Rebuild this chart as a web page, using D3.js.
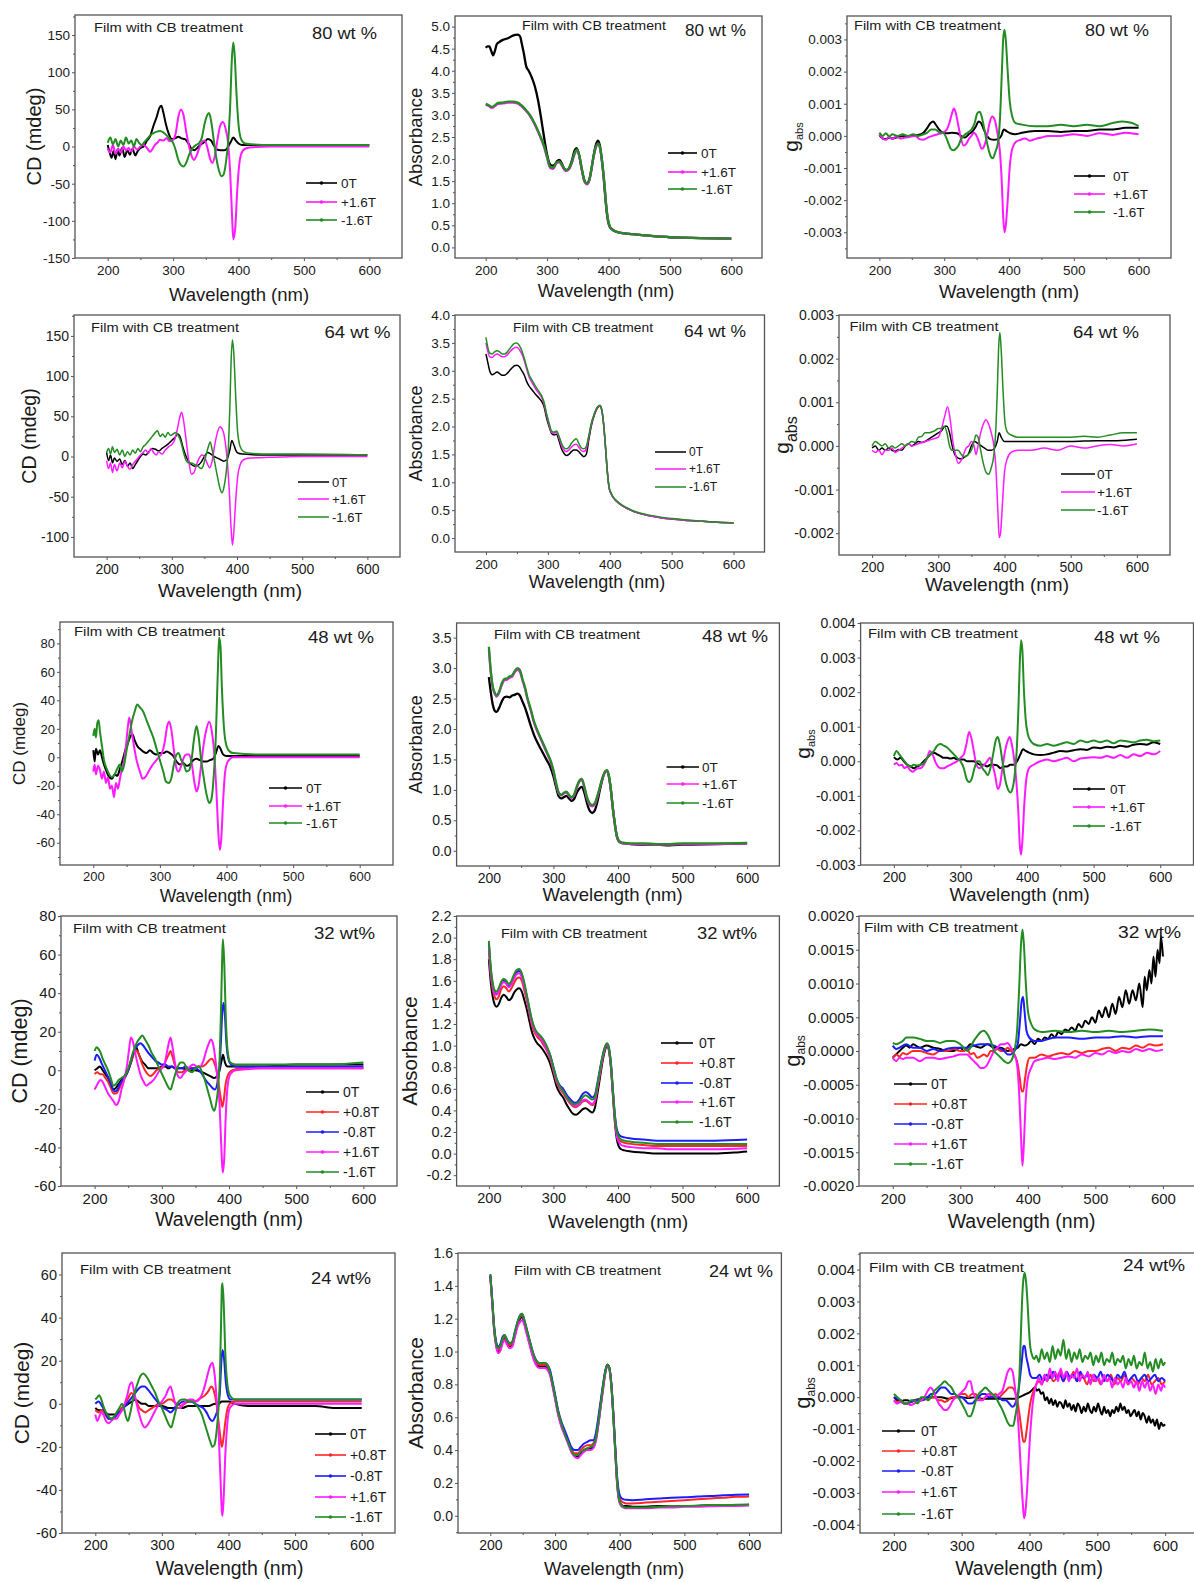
<!DOCTYPE html>
<html>
<head>
<meta charset="utf-8">
<script src="https://cdn.jsdelivr.net/npm/d3@7"></script>
<style>
  body { margin: 0; background: #fff; }
  svg { display: block; }
</style>
</head>
<body>
<svg id="fig" width="1194" height="1582"></svg>
<script>
// ---- tick values ----
var xTicks = [200, 300, 400, 500, 600];
var cdTicks80 = [-150, -100, -50, 0, 50, 100, 150];
var cdTicks64 = [-100, -50, 0, 50, 100, 150];
var cdTicks48 = [-60, -40, -20, 0, 20, 40, 60, 80];
var cdTicks32 = [-60, -40, -20, 0, 20, 40, 60, 80];
var cdTicks24 = [-60, -40, -20, 0, 20, 40, 60];
var absTicks80 = [0, 0.5, 1, 1.5, 2, 2.5, 3, 3.5, 4, 4.5, 5];
var absTicks64 = [0, 0.5, 1, 1.5, 2, 2.5, 3, 3.5, 4];
var absTicks48 = [0, 0.5, 1, 1.5, 2, 2.5, 3, 3.5];
var absTicks32 = [-0.2, 0, 0.2, 0.4, 0.6, 0.8, 1, 1.2, 1.4, 1.6, 1.8, 2, 2.2];
var absTicks24 = [0, 0.2, 0.4, 0.6, 0.8, 1, 1.2, 1.4, 1.6];
var gTicks80 = [-0.003, -0.002, -0.001, 0, 0.001, 0.002, 0.003];
var gTicks64 = [-0.002, -0.001, 0, 0.001, 0.002, 0.003];
var gTicks48 = [-0.003, -0.002, -0.001, 0, 0.001, 0.002, 0.003, 0.004];
var gTicks32 = [-0.002, -0.0015, -0.001, -0.0005, 0, 0.0005, 0.001, 0.0015, 0.002];
var gTicks24 = [-0.004, -0.003, -0.002, -0.001, 0, 0.001, 0.002, 0.003, 0.004];

// ---- 80 wt % ----
var cd80_0T = [[200,2],[203,-8],[206,-15],[209,-6],[212,-17],[215,-4],[218,-12],[222,-2],[226,-14],[230,-5],[234,-11],[238,-3],[242,-12],[246,-6],[250,-2],[255,0],[260,8],[265,14],[270,28],[275,40],[279,52],[282,55],[285,46],[289,30],[293,18],[298,10],[303,11],[308,13],[313,11],[318,10],[323,5],[328,-3],[333,-5],[338,-1],[343,3],[348,6],[353,10],[358,8],[362,2],[367,-4],[372,-5],[378,-5],[383,-2],[388,6],[392,12],[396,8],[400,4],[406,2],[420,2],[450,2],[500,2],[550,2],[600,2]];
var cd80_p16 = [[200,-3],[204,-8],[208,2],[212,-10],[216,-3],[220,-8],[224,0],[228,-5],[232,-2],[236,-7],[240,0],[245,-4],[250,0],[255,2],[260,-2],[265,-7],[268,-4],[272,2],[276,5],[280,9],[285,8],[290,11],[295,7],[300,9],[304,18],[308,40],[312,50],[316,42],[320,20],[324,2],[328,-12],[332,-18],[336,-12],[340,-2],[344,6],[348,8],[352,0],[356,-15],[360,-22],[364,-12],[368,10],[372,28],[376,33],[380,25],[384,5],[387,-30],[390,-90],[392,-125],[395,-110],[398,-60],[401,-25],[405,-8],[410,-3],[420,-1],[450,0],[500,0],[550,0],[600,0]];
var cd80_m16 = [[200,5],[204,12],[208,3],[212,10],[216,0],[220,8],[224,2],[228,12],[232,4],[236,8],[240,0],[244,10],[248,5],[252,2],[256,6],[260,10],[265,15],[270,18],[275,20],[280,21],[285,19],[290,15],[295,10],[300,5],[304,-5],[308,-18],[312,-25],[316,-27],[320,-22],[325,-10],[330,-2],[335,2],[340,5],[344,12],[348,30],[352,42],[355,45],[358,35],[362,10],[366,-15],[370,-32],[374,-40],[377,-38],[381,-20],[384,5],[387,50],[390,120],[392,140],[394,125],[397,70],[400,30],[404,10],[410,4],[420,3],[450,2],[500,2],[550,2],[600,2]];

var abs80_0T = [[200,4.52],[203,4.55],[206,4.55],[209,4.45],[212,4.35],[215,4.45],[218,4.6],[222,4.65],[228,4.7],[235,4.73],[242,4.78],[248,4.81],[252,4.82],[256,4.78],[259,4.6],[262,4.4],[266,4.1],[270,4.0],[275,3.85],[280,3.65],[285,3.35],[290,2.95],[295,2.5],[300,2.1],[304,1.9],[308,1.85],[312,1.87],[316,1.95],[320,1.98],[324,1.9],[328,1.78],[332,1.75],[336,1.8],[340,1.95],[345,2.2],[348,2.25],[352,2.1],[356,1.8],[360,1.55],[364,1.45],[368,1.5],[372,1.75],[376,2.1],[380,2.35],[383,2.42],[386,2.3],[389,2.0],[392,1.6],[395,1.1],[398,0.7],[401,0.5],[405,0.42],[410,0.37],[420,0.33],[440,0.3],[460,0.27],[480,0.25],[500,0.23],[520,0.22],[550,0.21],[600,0.2]];
var abs80_p16 = [[200,3.23],[205,3.2],[210,3.16],[215,3.2],[220,3.25],[228,3.26],[236,3.28],[244,3.28],[252,3.26],[258,3.2],[265,3.1],[272,2.98],[280,2.78],[288,2.53],[295,2.28],[300,2.03],[305,1.8],[310,1.78],[315,1.9],[320,1.93],[325,1.83],[330,1.73],[335,1.76],[340,1.9],[345,2.12],[349,2.2],[353,2.03],[357,1.73],[361,1.48],[365,1.43],[369,1.53],[373,1.83],[377,2.13],[381,2.31],[384,2.33],[387,2.18],[390,1.88],[393,1.48],[396,0.98],[399,0.64],[402,0.47],[406,0.4],[412,0.36],[420,0.33],[440,0.3],[460,0.27],[480,0.25],[500,0.23],[520,0.22],[550,0.21],[600,0.2]];
var abs80_m16 = [[200,3.25],[205,3.22],[210,3.18],[215,3.22],[220,3.27],[228,3.28],[236,3.3],[244,3.3],[252,3.28],[258,3.22],[265,3.12],[272,3.0],[280,2.8],[288,2.55],[295,2.3],[300,2.05],[305,1.82],[310,1.8],[315,1.92],[320,1.95],[325,1.85],[330,1.75],[335,1.78],[340,1.92],[345,2.15],[349,2.22],[353,2.05],[357,1.75],[361,1.5],[365,1.45],[369,1.55],[373,1.85],[377,2.15],[381,2.33],[384,2.35],[387,2.2],[390,1.9],[393,1.5],[396,1.0],[399,0.65],[402,0.48],[406,0.4],[412,0.36],[420,0.33],[440,0.3],[460,0.27],[480,0.25],[500,0.23],[520,0.22],[550,0.21],[600,0.2]];

var g80_0T = [[200,0.00002],[205,-0.00008],[210,-0.0001],[215,-0.00005],[220,-0.00008],[230,-0.00003],[240,0],[250,0],[260,0.00003],[268,0.0001],[274,0.00025],[279,0.0004],[283,0.00045],[287,0.00035],[292,0.0002],[298,0.0001],[305,0.00008],[312,0.0001],[320,0.00008],[326,0],[332,-0.00005],[338,0.00005],[344,0.00015],[349,0.0003],[353,0.00045],[357,0.0004],[361,0.0002],[366,0],[371,-0.0001],[377,-0.00012],[383,-0.0001],[388,0],[392,0.0002],[396,0.00015],[402,0.00008],[410,0.00005],[420,0.0001],[440,0.00015],[460,0.00015],[480,0.00012],[500,0.00015],[520,0.00015],[540,0.0002],[560,0.0002],[580,0.00025],[600,0.00025]];
var g80_p16 = [[200,0.00005],[205,-0.00008],[210,-0.00012],[215,-0.00003],[220,-0.0001],[226,-0.00002],[232,-0.00008],[240,-0.00005],[248,-0.00003],[255,0],[262,-0.0001],[268,-0.00012],[275,-0.00005],[282,0],[290,0.00005],[298,0.0001],[304,0.0002],[308,0.0004],[312,0.0007],[315,0.00085],[318,0.0007],[322,0.0003],[326,-0.0001],[330,-0.0003],[334,-0.00025],[338,-0.0001],[342,0],[346,0.0001],[350,0],[354,-0.0002],[358,-0.0004],[362,-0.0003],[366,0],[370,0.0004],[374,0.0006],[378,0.0005],[382,0.0001],[386,-0.0005],[389,-0.0015],[391,-0.0025],[393,-0.003],[395,-0.0028],[398,-0.002],[401,-0.001],[405,-0.0004],[410,-0.0002],[418,-0.00012],[425,-0.00008],[432,-0.00015],[440,-0.0001],[450,-0.00005],[460,0],[480,0],[500,0.00005],[520,0],[540,0.00008],[560,0.00003],[580,0.0001],[600,0.00005]];
var g80_m16 = [[200,0.0001],[205,0],[210,0.00008],[215,-0.00002],[220,0.00005],[228,0],[236,0.00005],[244,0],[252,0.00005],[260,0],[268,0.00005],[274,0.0001],[280,0.0002],[286,0.0002],[292,0.00012],[298,0.0001],[302,0],[306,-0.0002],[310,-0.0004],[314,-0.00045],[318,-0.0004],[322,-0.0003],[326,-0.0001],[330,0],[336,0.0001],[342,0.0002],[347,0.0004],[351,0.0007],[355,0.00075],[359,0.0005],[363,0.0001],[367,-0.0003],[371,-0.0006],[375,-0.0007],[379,-0.0005],[383,-0.0002],[386,0.0005],[389,0.002],[391,0.003],[393,0.0033],[395,0.003],[398,0.002],[401,0.0011],[405,0.0006],[410,0.0004],[420,0.00035],[440,0.0003],[460,0.0003],[480,0.00035],[500,0.0003],[520,0.00035],[540,0.0003],[560,0.0004],[575,0.00045],[590,0.0004],[600,0.0003]];

// ---- 64 wt % ----
var cd64_0T = [[200,5],[203,-5],[206,2],[209,-8],[212,-2],[216,-6],[220,-3],[224,-10],[228,-5],[232,-12],[236,-8],[240,-15],[244,-10],[248,-5],[252,0],[256,3],[260,2],[265,6],[270,10],[275,9],[280,7],[285,10],[290,13],[295,16],[300,20],[305,24],[309,28],[313,24],[317,12],[321,2],[325,-5],[330,-10],[335,-12],[340,-11],[345,-7],[350,0],[355,5],[360,3],[365,0],[370,-2],[375,-4],[380,-6],[385,-3],[389,8],[392,20],[395,15],[398,8],[402,4],[410,3],[430,2],[500,2],[600,2]];
var cd64_p16 = [[200,-5],[203,-15],[206,-8],[209,-20],[212,-10],[216,-18],[220,-8],[224,-14],[228,-6],[232,-12],[236,-16],[240,-10],[244,-6],[248,-2],[252,2],[256,5],[260,8],[264,4],[268,10],[272,5],[276,2],[280,6],[285,3],[290,8],[295,12],[300,15],[304,20],[308,32],[312,48],[315,55],[318,45],[322,20],[326,-5],[330,-22],[334,-20],[338,-10],[342,-2],[346,2],[350,0],[354,-8],[358,-14],[362,-5],[366,15],[370,30],[374,37],[378,33],[382,18],[385,-5],[388,-40],[391,-90],[393,-110],[395,-95],[398,-55],[401,-25],[405,-10],[410,-4],[420,-2],[450,-1],[500,0],[600,0]];
var cd64_m16 = [[200,5],[203,10],[206,3],[209,12],[212,5],[216,9],[220,2],[224,8],[228,0],[232,6],[236,2],[240,8],[244,4],[248,10],[252,6],[256,12],[260,15],[265,20],[270,25],[275,30],[278,32],[282,25],[286,28],[290,24],[294,30],[298,26],[302,28],[306,30],[310,26],[314,18],[318,5],[322,-5],[326,-8],[330,-8],[335,-10],[340,-12],[345,-15],[348,-12],[352,0],[356,12],[359,18],[362,8],[366,-8],[370,-25],[374,-40],[377,-45],[380,-38],[384,-15],[387,15],[389,60],[391,120],[393,145],[395,130],[398,75],[401,30],[405,12],[410,6],[420,4],[450,3],[500,3],[600,2]];

var abs64_0T = [[200,3.3],[203,3.15],[206,3.0],[210,2.93],[214,2.95],[218,2.98],[222,2.95],[226,2.92],[230,2.92],[234,2.95],[238,3.0],[242,3.05],[246,3.09],[250,3.1],[254,3.07],[258,3.0],[262,2.92],[266,2.8],[270,2.72],[275,2.65],[280,2.58],[285,2.52],[290,2.45],[294,2.35],[298,2.15],[302,2.0],[306,1.88],[310,1.85],[314,1.86],[318,1.75],[322,1.6],[326,1.52],[330,1.48],[334,1.5],[338,1.55],[342,1.58],[346,1.58],[350,1.55],[354,1.5],[358,1.46],[362,1.5],[366,1.75],[370,2.0],[375,2.2],[380,2.33],[384,2.37],[387,2.3],[390,2.05],[393,1.65],[396,1.2],[399,0.9],[402,0.8],[406,0.72],[410,0.67],[420,0.58],[430,0.52],[440,0.47],[460,0.41],[480,0.37],[500,0.34],[520,0.32],[550,0.3],[580,0.28],[600,0.27]];
var abs64_p16 = [[200,3.5],[203,3.35],[206,3.25],[210,3.24],[214,3.28],[218,3.3],[222,3.28],[226,3.25],[230,3.25],[234,3.28],[238,3.33],[242,3.38],[246,3.41],[250,3.42],[254,3.38],[258,3.3],[262,3.18],[266,3.02],[270,2.88],[275,2.78],[280,2.68],[285,2.6],[290,2.52],[294,2.4],[298,2.2],[302,2.03],[306,1.9],[310,1.88],[314,1.9],[318,1.8],[322,1.66],[326,1.58],[330,1.55],[334,1.58],[338,1.63],[342,1.67],[346,1.68],[350,1.63],[354,1.57],[358,1.55],[362,1.6],[366,1.8],[370,2.03],[375,2.22],[380,2.34],[384,2.37],[387,2.3],[390,2.05],[393,1.65],[396,1.2],[399,0.9],[402,0.8],[406,0.72],[410,0.67],[420,0.58],[430,0.52],[440,0.47],[460,0.41],[480,0.37],[500,0.34],[520,0.32],[550,0.3],[580,0.28],[600,0.27]];
var abs64_m16 = [[200,3.6],[203,3.42],[206,3.32],[210,3.3],[214,3.34],[218,3.36],[222,3.34],[226,3.3],[230,3.3],[234,3.33],[238,3.39],[242,3.45],[246,3.49],[250,3.5],[254,3.45],[258,3.36],[262,3.22],[266,3.06],[270,2.92],[275,2.82],[280,2.72],[285,2.64],[290,2.55],[294,2.43],[298,2.23],[302,2.06],[306,1.92],[310,1.9],[314,1.92],[318,1.83],[322,1.7],[326,1.62],[330,1.6],[334,1.63],[338,1.7],[342,1.75],[346,1.78],[350,1.7],[354,1.62],[358,1.6],[362,1.64],[366,1.83],[370,2.05],[375,2.23],[380,2.35],[384,2.38],[387,2.31],[390,2.06],[393,1.66],[396,1.21],[399,0.91],[402,0.81],[406,0.73],[410,0.68],[420,0.59],[430,0.53],[440,0.48],[460,0.42],[480,0.38],[500,0.35],[520,0.33],[550,0.3],[580,0.28],[600,0.27]];

var g64_0T = [[200,-0.00005],[205,0],[210,-0.0001],[215,-0.00005],[220,-0.0001],[225,-0.00005],[230,-0.0001],[235,-0.00012],[240,-0.00008],[245,-0.0001],[250,0],[255,0.00005],[260,0],[265,0.00005],[270,0.0001],[275,0.00008],[280,0.0001],[285,0.00015],[290,0.0002],[295,0.00025],[300,0.0003],[305,0.00035],[310,0.00045],[313,0.00045],[317,0.0003],[321,0],[325,-0.0002],[330,-0.00028],[335,-0.0003],[340,-0.00025],[345,-0.0002],[350,0],[355,0.0001],[360,0.00005],[365,0],[370,-0.00005],[375,-0.0001],[380,-0.0001],[385,-0.00005],[389,0.0001],[392,0.0003],[395,0.0002],[400,0.0001],[410,0.0001],[430,0.0001],[460,0.0001],[500,0.0001],[540,0.00012],[570,0.00012],[600,0.00015]];
var g64_p16 = [[200,-0.0001],[205,-0.00015],[210,-0.0001],[215,-0.0002],[220,-0.0001],[225,-0.0001],[230,-0.00005],[235,-0.00015],[240,-0.0001],[245,-0.00005],[250,0],[255,0.00005],[260,0],[270,0.00005],[280,0.0001],[290,0.00015],[300,0.0002],[305,0.0004],[310,0.0007],[314,0.0009],[318,0.0006],[322,0.0001],[326,-0.0002],[330,-0.0004],[334,-0.00035],[338,-0.0002],[342,-0.00005],[346,0],[350,0.0001],[354,0],[357,-0.0002],[360,0],[364,0.0003],[368,0.0005],[372,0.0006],[376,0.0005],[380,0.0003],[384,0],[387,-0.0005],[390,-0.0015],[392,-0.0021],[394,-0.002],[397,-0.0013],[400,-0.0006],[404,-0.0003],[410,-0.00015],[420,-0.0001],[440,-0.0001],[460,-0.00005],[480,-0.0001],[500,0],[520,-0.00005],[540,0],[560,0.00003],[580,0],[600,0.00005]];
var g64_m16 = [[200,0],[205,0.0001],[210,0.00005],[215,0],[220,0.00005],[225,-0.00005],[230,0],[235,-0.00005],[240,0],[245,0.00005],[250,0],[255,0.00005],[260,0.0001],[265,0.00008],[270,0.0002],[275,0.00022],[280,0.0003],[285,0.0003],[290,0.00032],[295,0.00035],[300,0.0004],[305,0.0004],[309,0.00045],[313,0.0003],[317,0],[321,-0.0001],[325,-0.0001],[330,-0.0001],[335,-0.0002],[340,-0.00025],[345,-0.0002],[350,-0.0001],[354,0.0001],[357,0.00025],[360,0.0002],[364,-0.0001],[368,-0.0004],[372,-0.0006],[376,-0.00065],[380,-0.0005],[384,-0.0002],[387,0.0004],[389,0.0012],[391,0.0022],[393,0.0026],[395,0.0022],[398,0.0012],[401,0.0005],[405,0.0003],[410,0.00025],[420,0.0002],[440,0.0002],[460,0.0002],[480,0.0002],[500,0.0002],[520,0.00022],[540,0.0002],[560,0.00025],[580,0.0003],[600,0.0003]];

// ---- 48 wt % ----
var cd48_0T = [[200,5],[202,-3],[204,6],[207,2],[210,5],[213,0],[216,-5],[220,-10],[224,-14],[228,-15],[232,-12],[236,-13],[240,-8],[244,-2],[248,5],[252,10],[256,15],[259,16],[262,12],[266,8],[270,6],[275,4],[280,3],[285,5],[290,3],[295,2],[300,3],[305,3],[310,4],[315,3],[320,1],[325,-3],[330,-5],[335,-4],[340,-6],[345,-5],[350,-2],[355,-1],[360,-2],[365,-3],[370,-3],[375,-2],[380,-1],[384,3],[388,8],[391,6],[395,2],[400,1],[410,1],[450,1],[500,1],[600,1]];
var cd48_p16 = [[200,-10],[202,-5],[204,-12],[207,-6],[210,-9],[213,-15],[216,-10],[219,-18],[222,-14],[225,-22],[228,-20],[231,-28],[234,-18],[237,-22],[240,-15],[243,-8],[246,-3],[249,8],[252,22],[254,28],[257,20],[261,8],[265,-2],[270,-10],[274,-15],[278,-14],[283,-10],[288,-6],[293,-3],[298,0],[303,3],[307,10],[311,22],[314,25],[317,20],[321,5],[325,-8],[328,-10],[332,-6],[336,0],[340,2],[344,2],[348,-5],[352,-18],[355,-24],[358,-20],[362,-5],[366,10],[370,20],[374,25],[378,18],[382,0],[385,-25],[388,-55],[390,-65],[392,-58],[395,-30],[398,-10],[402,-3],[410,0],[450,0],[500,0],[600,0]];
var cd48_m16 = [[200,15],[202,20],[204,14],[206,24],[208,26],[210,18],[213,8],[216,-2],[220,-8],[224,-12],[228,-14],[232,-12],[236,-8],[240,-5],[243,-10],[246,-6],[250,5],[254,15],[258,25],[262,32],[266,37],[270,35],[275,32],[280,26],[285,20],[290,14],[295,6],[300,-2],[305,-10],[309,-17],[313,-18],[317,-15],[321,-5],[325,2],[328,3],[332,-2],[336,-5],[340,-10],[344,-9],[348,0],[351,12],[355,22],[358,15],[362,-2],[366,-15],[370,-26],[374,-32],[377,-30],[381,-12],[384,15],[386,45],[388,75],[389,84],[391,78],[393,50],[396,22],[400,8],[405,4],[410,3],[450,2],[500,2],[550,2],[600,2]];

var abs48_0T = [[200,2.85],[203,2.6],[206,2.4],[209,2.3],[212,2.28],[216,2.35],[220,2.45],[224,2.52],[228,2.53],[232,2.52],[236,2.55],[240,2.56],[244,2.58],[248,2.55],[252,2.45],[256,2.35],[260,2.22],[265,2.05],[270,1.9],[275,1.78],[280,1.68],[285,1.58],[290,1.48],[295,1.38],[300,1.22],[304,1.05],[308,0.9],[312,0.86],[316,0.88],[320,0.9],[324,0.86],[328,0.82],[332,0.85],[336,0.95],[340,1.02],[344,1.05],[348,0.95],[352,0.78],[356,0.66],[360,0.62],[364,0.66],[368,0.8],[372,1.0],[376,1.18],[380,1.3],[383,1.32],[386,1.22],[389,1.0],[392,0.7],[395,0.45],[398,0.25],[401,0.16],[405,0.13],[410,0.12],[420,0.11],[440,0.1],[460,0.1],[480,0.09],[500,0.1],[550,0.11],[600,0.12]];
var abs48_p16 = [[200,3.3],[203,2.92],[206,2.68],[209,2.58],[212,2.53],[216,2.6],[220,2.72],[224,2.8],[228,2.81],[232,2.84],[236,2.86],[240,2.93],[244,2.97],[248,2.94],[252,2.8],[256,2.66],[260,2.48],[265,2.3],[270,2.1],[275,1.96],[280,1.84],[285,1.72],[290,1.6],[295,1.48],[300,1.3],[304,1.1],[308,0.95],[312,0.91],[316,0.94],[320,0.96],[324,0.91],[328,0.87],[332,0.91],[336,1.03],[340,1.13],[344,1.16],[348,1.03],[352,0.86],[356,0.76],[360,0.73],[364,0.76],[368,0.88],[372,1.04],[376,1.19],[380,1.29],[383,1.31],[386,1.21],[389,0.99],[392,0.69],[395,0.44],[398,0.24],[401,0.16],[405,0.13],[410,0.12],[420,0.11],[440,0.11],[460,0.1],[480,0.1],[500,0.11],[550,0.11],[600,0.12]];
var abs48_m16 = [[200,3.35],[203,2.95],[206,2.7],[209,2.6],[212,2.55],[216,2.62],[220,2.75],[224,2.82],[228,2.83],[232,2.86],[236,2.88],[240,2.95],[244,3.0],[248,2.97],[252,2.82],[256,2.68],[260,2.5],[265,2.32],[270,2.12],[275,1.98],[280,1.86],[285,1.74],[290,1.62],[295,1.5],[300,1.32],[304,1.12],[308,0.96],[312,0.92],[316,0.95],[320,0.97],[324,0.92],[328,0.88],[332,0.92],[336,1.05],[340,1.15],[344,1.18],[348,1.05],[352,0.88],[356,0.78],[360,0.75],[364,0.78],[368,0.9],[372,1.05],[376,1.2],[380,1.3],[383,1.32],[386,1.22],[389,1.0],[392,0.7],[395,0.45],[398,0.25],[401,0.17],[405,0.14],[410,0.13],[420,0.12],[440,0.12],[460,0.11],[480,0.11],[500,0.12],[550,0.12],[600,0.13]];

var g48_0T = [[200,0.00012],[205,0.00005],[210,0.0001],[215,0],[220,-0.0001],[225,-0.00015],[230,-0.0002],[235,-0.00015],[240,-0.0001],[245,0],[250,0.0001],[255,0.0002],[260,0.00025],[265,0.0002],[270,0.00015],[275,0.0001],[280,0.0001],[285,0.00008],[290,0.0001],[295,0.00005],[300,0.00005],[305,0.00005],[310,0],[315,0],[320,0],[325,-0.00005],[330,-0.0001],[335,-0.0001],[340,-0.00015],[345,-0.0001],[350,-0.0001],[355,-0.00012],[360,-0.0002],[365,-0.00015],[370,-0.00015],[375,-0.0001],[380,-0.0001],[385,0],[390,0.0002],[394,0.00035],[398,0.0003],[403,0.00025],[410,0.0002],[420,0.00018],[430,0.0002],[440,0.00025],[450,0.0003],[460,0.00028],[470,0.00032],[480,0.00035],[490,0.00033],[500,0.0004],[510,0.00038],[520,0.00042],[530,0.0004],[540,0.00045],[550,0.00042],[560,0.00048],[570,0.0005],[580,0.00048],[590,0.00055],[600,0.0005]];
var g48_p16 = [[200,-0.0001],[204,-0.00005],[208,-0.00012],[212,-0.0001],[216,-0.0002],[220,-0.00015],[224,-0.00025],[228,-0.0003],[232,-0.00025],[236,-0.0002],[240,-0.0002],[245,-0.0001],[250,0.0001],[254,0.0003],[258,0.0002],[262,0],[266,-0.00015],[270,-0.0002],[275,-0.0002],[280,-0.00015],[285,-0.0001],[290,-0.00005],[295,0],[300,0.0001],[305,0.0002],[309,0.0005],[313,0.00085],[316,0.0007],[320,0.0003],[324,-0.0001],[328,-0.0002],[332,-0.00015],[336,-0.0001],[340,0],[344,0.0001],[348,-0.0001],[352,-0.0004],[356,-0.0008],[359,-0.0007],[363,-0.0002],[367,0.0003],[371,0.0006],[374,0.0007],[377,0.0005],[381,0],[384,-0.0006],[387,-0.0015],[389,-0.0024],[391,-0.0027],[393,-0.0023],[396,-0.0012],[399,-0.0005],[403,-0.0002],[410,-0.0001],[420,0],[430,0.00005],[440,0],[450,0.00005],[460,0.0001],[470,0],[480,0.00008],[490,0.0001],[500,0.00012],[510,0.0001],[520,0.00015],[530,0.0001],[540,0.00018],[550,0.0001],[560,0.0002],[570,0.00015],[580,0.00025],[590,0.0002],[600,0.0003]];
var g48_m16 = [[200,0.00015],[204,0.0003],[208,0.0002],[212,0.0001],[216,0],[220,-0.0001],[225,-0.00015],[230,-0.0001],[235,-0.00012],[240,-0.0001],[245,-0.00005],[250,0.0001],[255,0.0002],[260,0.0003],[265,0.00045],[270,0.0005],[275,0.00045],[280,0.0004],[285,0.0003],[290,0.0002],[295,0.0001],[300,0],[305,-0.0002],[309,-0.0005],[313,-0.0006],[317,-0.0005],[321,-0.0002],[325,0],[329,0],[333,-0.0002],[337,-0.0003],[341,-0.0004],[345,-0.0002],[349,0.0002],[353,0.0006],[356,0.0007],[359,0.0005],[363,0],[367,-0.0005],[371,-0.0008],[375,-0.0009],[378,-0.0008],[382,-0.0003],[385,0.0005],[387,0.0015],[389,0.0028],[391,0.0035],[393,0.0032],[395,0.0022],[398,0.0012],[401,0.0008],[405,0.0006],[410,0.0005],[420,0.00045],[430,0.0005],[440,0.00045],[450,0.0005],[460,0.00055],[470,0.0005],[480,0.0006],[490,0.00055],[500,0.0006],[510,0.00055],[520,0.0006],[530,0.00052],[540,0.0006],[550,0.00058],[560,0.00055],[570,0.0006],[580,0.00062],[590,0.00058],[600,0.0006]];

// ---- 32 wt% ----
var cd32_0T = [[200,0],[204,1],[208,2],[212,0],[216,-2],[220,-4],[224,-7],[228,-10],[232,-9],[236,-7],[240,-5],[245,-3],[250,0],[255,5],[259,10],[262,12],[265,9],[270,5],[275,3],[280,1],[285,1],[290,1],[295,1],[300,2],[305,2],[310,1],[315,2],[320,1],[330,1],[340,0],[350,0],[360,-1],[366,-2],[372,-3],[378,-4],[382,-3],[386,0],[389,5],[391,8],[394,4],[398,2],[405,2],[420,2],[450,2],[500,3],[550,3],[600,3]];
var cd32_p08 = [[200,-2],[204,-1],[208,-2],[212,-2],[216,-4],[220,-6],[224,-9],[228,-12],[232,-12],[236,-10],[240,-7],[245,-4],[250,0],[255,5],[259,9],[263,10],[267,7],[271,3],[275,0],[279,-2],[283,-3],[287,-2],[292,0],[297,1],[302,2],[306,5],[310,8],[313,10],[316,7],[320,2],[325,-1],[330,-1],[335,0],[340,0],[345,1],[350,1],[355,2],[360,2],[365,3],[370,5],[374,6],[378,4],[382,-1],[385,-8],[388,-15],[390,-19],[392,-16],[395,-7],[399,-2],[405,0],[420,1],[500,1],[600,1]];
var cd32_m08 = [[200,5],[203,8],[206,7],[210,4],[214,1],[218,-2],[222,-5],[226,-9],[230,-11],[234,-10],[238,-7],[242,-5],[246,-3],[250,0],[255,6],[260,11],[264,13],[268,14],[272,13],[276,11],[280,9],[285,7],[290,5],[295,4],[300,3],[305,3],[310,2],[315,2],[320,1],[325,1],[330,1],[335,2],[340,1],[345,1],[350,1],[355,0],[360,-2],[365,-5],[370,-7],[375,-9],[379,-10],[383,-6],[386,2],[388,15],[390,30],[392,35],[394,28],[396,15],[399,6],[403,3],[410,2],[450,2],[500,2],[550,2],[600,2]];
var cd32_p16 = [[200,-10],[203,-8],[206,-6],[209,-5],[212,-6],[216,-9],[220,-12],[224,-14],[228,-16],[232,-18],[236,-16],[240,-10],[244,-5],[248,2],[251,10],[254,17],[257,15],[261,8],[265,2],[269,-3],[273,-6],[277,-8],[281,-7],[285,-6],[290,-4],[295,-1],[300,1],[304,3],[308,10],[311,15],[313,17],[316,12],[320,3],[324,-3],[328,-4],[332,-2],[337,0],[342,2],[347,3],[352,2],[357,2],[362,5],[366,10],[370,14],[373,16],[376,14],[380,5],[383,-5],[386,-18],[388,-35],[390,-50],[391,-53],[393,-45],[395,-25],[398,-8],[402,-2],[410,0],[450,1],[500,1],[550,1],[600,1]];
var cd32_m16 = [[200,10],[203,12],[206,11],[209,9],[212,6],[216,3],[220,0],[224,-4],[228,-8],[232,-7],[236,-5],[240,-4],[244,-3],[248,-1],[252,3],[256,8],[260,12],[264,15],[268,17],[271,18],[275,16],[280,13],[285,9],[290,6],[295,2],[299,-1],[303,-4],[307,-7],[310,-9],[313,-10],[316,-7],[320,-2],[324,2],[328,4],[332,4],[336,2],[340,0],[345,-1],[350,1],[355,2],[360,-1],[364,-5],[368,-10],[372,-15],[376,-20],[378,-21],[381,-17],[384,-8],[386,5],[388,30],[390,60],[391,68],[393,55],[395,30],[398,10],[402,4],[410,3],[450,3],[500,3],[550,3],[600,4]];

var abs32_0T = [[200,1.8],[203,1.58],[206,1.45],[209,1.38],[212,1.36],[215,1.38],[219,1.44],[223,1.47],[227,1.45],[231,1.42],[235,1.44],[239,1.49],[243,1.52],[247,1.53],[251,1.5],[255,1.42],[259,1.33],[263,1.22],[267,1.12],[271,1.06],[275,1.02],[280,0.99],[285,0.95],[290,0.9],[295,0.83],[300,0.73],[305,0.62],[310,0.56],[315,0.52],[320,0.46],[325,0.41],[330,0.37],[335,0.36],[340,0.38],[345,0.41],[350,0.42],[355,0.4],[360,0.38],[364,0.42],[368,0.55],[372,0.7],[376,0.85],[380,0.96],[383,1.0],[386,0.95],[389,0.8],[392,0.55],[395,0.3],[398,0.14],[401,0.07],[405,0.04],[410,0.03],[420,0.02],[440,0.01],[460,0],[480,0],[500,0],[520,0],[550,0],[580,0.01],[600,0.02]];
var abs32_p08 = [[200,1.88],[203,1.65],[206,1.52],[209,1.45],[212,1.43],[215,1.45],[219,1.52],[223,1.55],[227,1.53],[231,1.5],[235,1.53],[239,1.58],[243,1.62],[247,1.63],[251,1.6],[255,1.51],[259,1.41],[263,1.29],[267,1.18],[271,1.12],[275,1.08],[280,1.05],[285,1.0],[290,0.95],[295,0.88],[300,0.77],[305,0.66],[310,0.6],[315,0.56],[320,0.51],[325,0.47],[330,0.44],[335,0.43],[340,0.45],[345,0.48],[350,0.49],[355,0.47],[360,0.45],[364,0.48],[368,0.6],[372,0.74],[376,0.88],[380,0.98],[383,1.01],[386,0.96],[389,0.82],[392,0.58],[395,0.34],[398,0.19],[401,0.13],[405,0.11],[410,0.1],[420,0.09],[440,0.08],[460,0.07],[480,0.07],[500,0.07],[550,0.07],[600,0.07]];
var abs32_m08 = [[200,1.95],[203,1.7],[206,1.56],[209,1.49],[212,1.48],[215,1.5],[219,1.57],[223,1.6],[227,1.58],[231,1.55],[235,1.58],[239,1.64],[243,1.68],[247,1.69],[251,1.65],[255,1.56],[259,1.45],[263,1.33],[267,1.22],[271,1.15],[275,1.11],[280,1.08],[285,1.04],[290,0.98],[295,0.91],[300,0.8],[305,0.69],[310,0.63],[315,0.6],[320,0.55],[325,0.51],[330,0.48],[335,0.47],[340,0.5],[345,0.55],[350,0.57],[355,0.55],[360,0.52],[364,0.54],[368,0.65],[372,0.78],[376,0.9],[380,0.99],[383,1.02],[386,0.98],[389,0.84],[392,0.6],[395,0.37],[398,0.23],[401,0.18],[405,0.16],[410,0.15],[420,0.14],[440,0.13],[460,0.12],[480,0.12],[500,0.12],[550,0.12],[600,0.13]];
var abs32_p16 = [[200,1.92],[203,1.68],[206,1.55],[209,1.48],[212,1.47],[215,1.5],[219,1.56],[223,1.59],[227,1.57],[231,1.54],[235,1.57],[239,1.62],[243,1.66],[247,1.67],[251,1.63],[255,1.54],[259,1.43],[263,1.31],[267,1.2],[271,1.14],[275,1.1],[280,1.07],[285,1.02],[290,0.96],[295,0.89],[300,0.78],[305,0.67],[310,0.61],[315,0.57],[320,0.52],[325,0.48],[330,0.45],[335,0.44],[340,0.46],[345,0.49],[350,0.5],[355,0.48],[360,0.46],[364,0.49],[368,0.61],[372,0.75],[376,0.88],[380,0.98],[383,1.01],[386,0.96],[389,0.82],[392,0.57],[395,0.33],[398,0.17],[401,0.11],[405,0.08],[410,0.07],[420,0.06],[440,0.05],[460,0.05],[480,0.04],[500,0.04],[550,0.04],[600,0.05]];
var abs32_m16 = [[200,1.97],[203,1.72],[206,1.58],[209,1.51],[212,1.5],[215,1.53],[219,1.59],[223,1.62],[227,1.6],[231,1.57],[235,1.6],[239,1.66],[243,1.7],[247,1.71],[251,1.67],[255,1.58],[259,1.46],[263,1.34],[267,1.23],[271,1.16],[275,1.12],[280,1.09],[285,1.05],[290,0.99],[295,0.91],[300,0.8],[305,0.69],[310,0.62],[315,0.58],[320,0.53],[325,0.49],[330,0.46],[335,0.46],[340,0.48],[345,0.52],[350,0.54],[355,0.52],[360,0.5],[364,0.52],[368,0.63],[372,0.77],[376,0.9],[380,0.99],[383,1.02],[386,0.97],[389,0.83],[392,0.59],[395,0.36],[398,0.21],[401,0.16],[405,0.13],[410,0.12],[420,0.11],[440,0.1],[460,0.09],[480,0.09],[500,0.09],[550,0.09],[600,0.09]];

var g32_0T = [[200,-0.0001],[205,-0.00005],[210,0],[215,0.00005],[220,0.00008],[225,0.00005],[230,0.0001],[240,0.00005],[250,0.00008],[260,0.00005],[270,0.00003],[280,0],[290,0],[300,0.00005],[305,0],[310,0.00005],[315,0.0001],[320,0.00008],[330,0.00005],[340,0.0001],[350,0.00005],[360,0.00005],[370,0],[380,0.00003],[385,0.00005],[390,0.0001],[395,0.00008],[400,0.0001],[405,0.00015],[410,0.0001],[415,0.00018],[420,0.00015],[425,0.0002],[430,0.00018],[435,0.00025],[440,0.0002],[445,0.00028],[450,0.00025],[455,0.00032],[460,0.0003],[465,0.00035],[470,0.0003],[475,0.0004],[480,0.00035],[485,0.00045],[490,0.0004],[495,0.0005],[500,0.00042],[505,0.0006],[510,0.0005],[515,0.00065],[520,0.0005],[525,0.0007],[530,0.00055],[535,0.0008],[540,0.00065],[545,0.0009],[550,0.0007],[555,0.0009],[560,0.00075],[565,0.001],[570,0.00065],[573,0.0011],[576,0.0009],[580,0.0012],[583,0.001],[586,0.0014],[589,0.0011],[592,0.0015],[595,0.0013],[597,0.0017],[600,0.0014]];
var g32_p08 = [[200,-0.0001],[205,-0.00005],[210,-0.00008],[215,-0.00003],[220,-0.00005],[230,0],[240,0],[250,-0.00003],[260,-0.00005],[270,0],[280,0],[290,0.00003],[300,0],[305,0],[310,0.00003],[315,-0.00005],[320,-0.00003],[325,-0.0001],[330,-0.00008],[335,-0.00005],[340,-0.00008],[345,0],[350,0],[355,0.00003],[360,0],[365,0],[370,0.00005],[375,0],[380,-0.00005],[385,-0.0002],[388,-0.0004],[391,-0.0006],[393,-0.0006],[396,-0.0004],[399,-0.0002],[403,-0.0001],[410,-0.0001],[420,-0.00005],[430,-0.00008],[440,-0.00005],[450,-0.00003],[460,-0.00005],[470,0],[480,-0.00003],[490,0],[500,0],[510,0.00003],[520,0.00005],[530,0],[540,0.00005],[550,0.00003],[560,0.00008],[570,0.00005],[580,0.0001],[590,0.00008],[600,0.0001]];
var g32_m08 = [[200,0.00008],[205,0.00003],[210,0.00005],[220,0.0001],[230,0.00005],[240,0.00005],[250,0],[260,0.00003],[270,0],[280,0.00003],[290,0.00005],[300,0.00005],[310,0.00005],[320,0.00008],[330,0.0001],[340,0.0001],[350,0.00008],[360,0.00003],[365,0],[370,-0.00005],[375,-0.00005],[380,0],[385,0.0001],[388,0.0004],[391,0.00075],[393,0.0008],[395,0.0006],[398,0.0003],[402,0.0002],[410,0.00015],[420,0.00015],[440,0.0002],[460,0.0002],[480,0.00018],[500,0.0002],[520,0.0002],[540,0.00022],[560,0.0002],[580,0.00022],[600,0.00022]];
var g32_p16 = [[200,-0.0001],[205,-0.00015],[210,-0.0001],[215,-0.00012],[220,-0.0001],[230,-0.0001],[240,-0.00015],[250,-0.0001],[260,-0.0001],[270,-0.00012],[280,-0.0001],[290,-0.00008],[300,-0.00005],[305,-0.00005],[310,-0.00005],[315,-0.0001],[320,-0.00015],[325,-0.0002],[330,-0.00025],[335,-0.00025],[340,-0.0002],[345,-0.0001],[350,0],[355,0.00005],[360,0.0001],[365,0.0001],[370,0.00012],[375,0.00005],[380,-0.00005],[384,-0.0002],[387,-0.0006],[390,-0.0013],[392,-0.0017],[394,-0.0014],[397,-0.0007],[400,-0.0004],[405,-0.00025],[410,-0.00015],[420,-0.00012],[430,-0.0001],[440,-0.00012],[450,-0.0001],[460,-0.00008],[470,-0.0001],[480,-0.00005],[490,-0.00008],[500,-0.00003],[510,-0.00005],[520,0],[530,-0.00003],[540,0],[550,-0.00002],[560,0.00003],[570,0],[580,0.00003],[590,0],[600,0.00002]];
var g32_m16 = [[200,0.00012],[205,0.0001],[210,0.00012],[215,0.00015],[220,0.0002],[230,0.0002],[240,0.00018],[250,0.00015],[260,0.00015],[270,0.00012],[280,0.00015],[290,0.00015],[300,0.0001],[305,0.00005],[310,0],[315,0.00005],[320,0.00015],[325,0.00022],[330,0.00028],[335,0.0003],[340,0.00025],[345,0.00015],[350,0],[355,-0.00005],[360,-0.0001],[365,-0.00015],[370,-0.00018],[375,-0.00015],[380,0],[384,0.0003],[387,0.0009],[390,0.0016],[392,0.0018],[394,0.0016],[397,0.001],[400,0.0006],[405,0.0004],[410,0.00032],[420,0.00028],[440,0.0003],[460,0.00028],[480,0.0003],[500,0.00028],[520,0.0003],[540,0.00028],[560,0.0003],[580,0.00032],[600,0.0003]];

// ---- 24 wt% ----
var cd24_0T = [[200,-2],[205,-3],[210,-3],[215,-4],[220,-5],[225,-5],[230,-5],[235,-4],[240,-2],[245,-1],[250,0],[255,1],[260,2],[265,1],[270,0],[275,0],[280,-1],[290,-1],[300,-1],[310,-2],[320,-2],[330,-2],[340,-1],[350,-1],[360,-1],[370,-1],[380,0],[385,0],[390,1],[395,1],[400,1],[410,0],[430,-1],[450,-1],[470,-1],[500,-1],[530,-1],[560,-2],[580,-2],[600,-2]];
var cd24_p08 = [[200,-3],[205,-4],[210,-3],[215,-5],[220,-7],[225,-7],[230,-6],[235,-4],[240,-2],[245,0],[250,3],[254,5],[258,4],[262,1],[266,-2],[270,-3],[275,-4],[280,-3],[285,-2],[290,-1],[295,0],[300,0],[305,1],[310,2],[314,2],[318,1],[322,0],[328,-1],[334,0],[340,1],[345,1],[350,1],[355,2],[360,3],[365,4],[370,6],[374,8],[378,6],[382,0],[385,-8],[388,-16],[390,-20],[392,-17],[395,-9],[398,-3],[402,0],[410,1],[450,1],[500,1],[550,1],[600,1]];
var cd24_m08 = [[200,0],[205,1],[210,-1],[215,-4],[220,-7],[225,-7],[230,-6],[235,-4],[240,-3],[245,-1],[250,1],[255,3],[260,5],[265,7],[270,8],[274,8],[278,7],[283,5],[288,3],[293,1],[298,-1],[303,-2],[308,-3],[313,-4],[317,-3],[321,-1],[326,0],[332,1],[338,1],[344,1],[350,0],[356,-1],[362,-2],[367,-4],[372,-7],[376,-8],[380,-6],[384,-2],[387,5],[389,18],[391,25],[393,22],[396,10],[399,4],[403,2],[410,2],[450,2],[500,2],[550,2],[600,2]];
var cd24_p16 = [[200,-5],[203,-8],[206,-6],[209,-4],[212,-5],[216,-8],[220,-9],[224,-8],[228,-7],[232,-7],[236,-5],[240,-3],[244,0],[248,4],[252,9],[255,10],[258,6],[262,0],[266,-5],[270,-9],[274,-11],[278,-10],[282,-8],[287,-5],[292,-2],[297,0],[302,2],[306,4],[310,7],[313,8],[316,5],[320,0],[324,-2],[328,-2],[332,0],[336,1],[341,2],[346,2],[351,1],[356,2],[361,5],[365,9],[369,14],[373,18],[376,19],[379,14],[382,3],[385,-12],[388,-35],[390,-50],[391,-52],[393,-42],[395,-25],[398,-10],[402,-2],[410,0],[450,0],[500,0],[550,0],[600,0]];
var cd24_m16 = [[200,2],[203,3],[206,4],[209,2],[212,-1],[216,-4],[220,-6],[224,-7],[228,-6],[232,-4],[236,-2],[240,0],[243,-2],[246,-6],[249,-8],[252,-5],[256,1],[260,6],[264,10],[268,13],[272,14],[276,13],[280,11],[285,8],[290,5],[295,1],[300,-2],[304,-5],[308,-8],[311,-10],[314,-11],[317,-8],[321,-3],[325,1],[330,2],[335,2],[340,1],[345,1],[350,0],[355,-2],[360,-5],[364,-9],[368,-13],[372,-17],[376,-20],[379,-19],[382,-13],[385,-2],[387,12],[389,40],[390,54],[391,56],[393,45],[395,25],[398,10],[402,4],[410,2],[450,2],[500,2],[550,2],[600,2]];

var abs24_0T = [[200,1.46],[203,1.3],[206,1.13],[209,1.04],[212,1.0],[215,1.01],[219,1.06],[222,1.08],[226,1.05],[230,1.03],[234,1.04],[238,1.1],[242,1.16],[246,1.2],[249,1.21],[252,1.18],[256,1.12],[260,1.06],[264,1.0],[268,0.95],[272,0.92],[276,0.91],[280,0.91],[284,0.91],[288,0.9],[292,0.87],[296,0.8],[300,0.72],[305,0.62],[310,0.55],[315,0.5],[320,0.45],[325,0.4],[330,0.37],[335,0.36],[340,0.38],[345,0.4],[350,0.41],[355,0.41],[359,0.42],[363,0.46],[367,0.56],[371,0.68],[375,0.8],[378,0.88],[381,0.92],[384,0.9],[387,0.8],[390,0.62],[393,0.4],[396,0.2],[399,0.1],[402,0.07],[406,0.06],[410,0.06],[420,0.055],[440,0.055],[460,0.06],[480,0.06],[500,0.06],[520,0.06],[540,0.065],[560,0.065],[580,0.065],[600,0.067]];
var abs24_p08 = [[200,1.46],[203,1.3],[206,1.14],[209,1.05],[212,1.01],[215,1.02],[219,1.07],[222,1.09],[226,1.06],[230,1.04],[234,1.05],[238,1.11],[242,1.17],[246,1.21],[249,1.22],[252,1.19],[256,1.13],[260,1.07],[264,1.01],[268,0.96],[272,0.93],[276,0.92],[280,0.92],[284,0.92],[288,0.91],[292,0.88],[296,0.81],[300,0.73],[305,0.63],[310,0.56],[315,0.51],[320,0.46],[325,0.41],[330,0.38],[335,0.38],[340,0.4],[345,0.42],[350,0.43],[355,0.43],[359,0.44],[363,0.48],[367,0.58],[371,0.7],[375,0.81],[378,0.88],[381,0.92],[384,0.9],[387,0.8],[390,0.63],[393,0.42],[396,0.22],[399,0.12],[402,0.09],[406,0.08],[410,0.075],[420,0.075],[440,0.08],[460,0.085],[480,0.09],[500,0.095],[520,0.1],[540,0.105],[560,0.11],[580,0.115],[600,0.118]];
var abs24_m08 = [[200,1.47],[203,1.31],[206,1.15],[209,1.06],[212,1.03],[215,1.04],[219,1.09],[222,1.1],[226,1.07],[230,1.05],[234,1.06],[238,1.12],[242,1.18],[246,1.22],[249,1.23],[252,1.2],[256,1.14],[260,1.08],[264,1.02],[268,0.97],[272,0.94],[276,0.93],[280,0.93],[284,0.93],[288,0.92],[292,0.89],[296,0.82],[300,0.74],[305,0.64],[310,0.57],[315,0.52],[320,0.47],[325,0.42],[330,0.4],[335,0.4],[340,0.42],[345,0.44],[350,0.45],[355,0.46],[359,0.46],[363,0.5],[367,0.6],[371,0.71],[375,0.82],[378,0.89],[381,0.92],[384,0.9],[387,0.81],[390,0.64],[393,0.43],[396,0.24],[399,0.14],[402,0.11],[406,0.1],[410,0.097],[420,0.095],[440,0.1],[460,0.105],[480,0.11],[500,0.112],[520,0.117],[540,0.12],[560,0.125],[580,0.128],[600,0.13]];
var abs24_p16 = [[200,1.45],[203,1.29],[206,1.12],[209,1.03],[212,0.99],[215,1.0],[219,1.05],[222,1.07],[226,1.04],[230,1.02],[234,1.03],[238,1.09],[242,1.15],[246,1.18],[249,1.19],[252,1.17],[256,1.11],[260,1.05],[264,0.99],[268,0.94],[272,0.91],[276,0.9],[280,0.9],[284,0.9],[288,0.89],[292,0.86],[296,0.79],[300,0.71],[305,0.61],[310,0.54],[315,0.49],[320,0.44],[325,0.39],[330,0.36],[335,0.35],[340,0.37],[345,0.39],[350,0.4],[355,0.4],[359,0.41],[363,0.45],[367,0.55],[371,0.67],[375,0.79],[378,0.87],[381,0.91],[384,0.89],[387,0.79],[390,0.61],[393,0.39],[396,0.19],[399,0.09],[402,0.06],[406,0.05],[410,0.045],[420,0.045],[440,0.045],[460,0.05],[480,0.05],[500,0.055],[520,0.055],[540,0.058],[560,0.06],[580,0.06],[600,0.062]];
var abs24_m16 = [[200,1.47],[203,1.31],[206,1.14],[209,1.05],[212,1.02],[215,1.03],[219,1.08],[222,1.1],[226,1.07],[230,1.05],[234,1.06],[238,1.12],[242,1.18],[246,1.22],[249,1.23],[252,1.2],[256,1.14],[260,1.08],[264,1.02],[268,0.97],[272,0.94],[276,0.93],[280,0.93],[284,0.93],[288,0.92],[292,0.88],[296,0.81],[300,0.73],[305,0.63],[310,0.56],[315,0.5],[320,0.45],[325,0.4],[330,0.37],[335,0.37],[340,0.39],[345,0.4],[350,0.41],[355,0.42],[359,0.43],[363,0.47],[367,0.57],[371,0.69],[375,0.81],[378,0.88],[381,0.92],[384,0.9],[387,0.8],[390,0.62],[393,0.41],[396,0.21],[399,0.1],[402,0.07],[406,0.055],[410,0.05],[420,0.05],[440,0.05],[460,0.055],[480,0.06],[500,0.06],[520,0.062],[540,0.065],[560,0.065],[580,0.067],[600,0.068]];

var g24_0T = [[200,0],[205,-0.0001],[210,-0.00015],[215,-0.0001],[220,-0.0001],[225,-0.00015],[230,-0.0001],[240,-0.00005],[250,0],[260,0],[270,0],[280,-0.00005],[290,0],[300,0],[310,-0.00003],[320,0],[330,-0.00005],[340,-0.00005],[350,-0.00005],[360,-0.00005],[370,-0.00005],[380,-0.00005],[385,0],[390,0.00005],[395,0.0001],[400,0.00015],[405,0.00025],[408,0.0003],[411,0.0002],[414,0.00025],[417,0.0001],[420,0.00015],[423,-0.0001],[426,0],[429,-0.0002],[432,-0.00005],[435,-0.00025],[438,-0.0001],[441,-0.0003],[444,-0.00015],[447,-0.0002],[450,-0.00035],[453,-0.0001],[456,-0.0003],[459,-0.0002],[462,-0.0004],[465,-0.00025],[468,-0.00045],[471,-0.0002],[474,-0.0003],[477,-0.0005],[480,-0.0003],[483,-0.00045],[486,-0.0002],[489,-0.0004],[492,-0.0005],[495,-0.0003],[498,-0.00045],[501,-0.0002],[504,-0.0004],[507,-0.00055],[510,-0.0003],[513,-0.0005],[516,-0.0004],[519,-0.0006],[522,-0.0004],[525,-0.0005],[528,-0.0003],[531,-0.00045],[534,-0.0002],[537,-0.0004],[540,-0.0003],[543,-0.0005],[546,-0.0004],[549,-0.0006],[552,-0.0005],[555,-0.0004],[558,-0.0006],[561,-0.00045],[564,-0.0007],[567,-0.0005],[570,-0.0006],[573,-0.0008],[576,-0.0006],[579,-0.0008],[582,-0.0007],[585,-0.0009],[588,-0.0007],[591,-0.001],[594,-0.0008],[597,-0.0009],[600,-0.00085]];
var g24_p08 = [[200,-0.0001],[205,-0.00015],[210,-0.0001],[215,-0.0002],[220,-0.0002],[225,-0.00015],[230,-0.0001],[240,-0.0001],[250,-0.00005],[260,0],[265,-0.0001],[270,-0.0001],[275,-0.00015],[280,-0.0001],[285,0],[290,0],[295,0.00005],[300,0.0001],[305,0.0001],[310,0],[315,0.0001],[320,0.0001],[325,0],[330,-0.0001],[335,0],[340,0.0001],[345,0],[350,0.0001],[355,0],[360,0.0001],[365,0.0002],[370,0.0003],[374,0.0003],[378,0.0002],[382,-0.0001],[385,-0.0005],[388,-0.001],[391,-0.0014],[393,-0.0014],[396,-0.001],[399,-0.0005],[402,-0.0001],[406,0.0002],[410,0.0004],[414,0.0005],[418,0.0004],[422,0.0006],[426,0.0005],[430,0.0007],[435,0.0005],[440,0.0006],[445,0.0008],[450,0.0005],[455,0.0007],[460,0.0006],[465,0.0008],[470,0.0005],[475,0.0007],[480,0.0006],[485,0.0004],[490,0.0007],[495,0.0005],[500,0.0006],[505,0.0004],[510,0.0006],[515,0.0005],[520,0.0007],[525,0.0004],[530,0.0006],[535,0.0005],[540,0.0007],[545,0.0004],[550,0.0006],[555,0.0005],[560,0.0004],[565,0.0006],[570,0.0005],[575,0.0007],[580,0.0004],[585,0.0005],[590,0.0006],[595,0.0004],[600,0.0005]];
var g24_m08 = [[200,0],[205,-0.00005],[210,-0.0001],[215,-0.0002],[220,-0.0002],[225,-0.00015],[230,-0.0001],[240,-0.0001],[250,0],[255,0.0001],[260,0.0001],[265,0.0002],[270,0.0003],[275,0.0003],[280,0.0002],[285,0.0001],[290,0.0001],[295,0],[300,0],[305,-0.0001],[310,-0.0002],[315,-0.0002],[320,-0.0001],[325,0],[330,0.0001],[335,0.0001],[340,0],[345,0],[350,0],[355,0],[360,-0.0001],[365,-0.0001],[370,-0.0002],[375,-0.0003],[379,-0.0002],[383,0.0001],[386,0.0006],[389,0.0012],[391,0.0016],[393,0.0016],[395,0.0013],[398,0.001],[401,0.0007],[405,0.0006],[410,0.0006],[415,0.0007],[420,0.0005],[425,0.0007],[430,0.0006],[435,0.0008],[440,0.0006],[445,0.0007],[450,0.0005],[455,0.0008],[460,0.0006],[465,0.0007],[470,0.0005],[475,0.0008],[480,0.0006],[485,0.0007],[490,0.0005],[495,0.0007],[500,0.0006],[505,0.0008],[510,0.0005],[515,0.0007],[520,0.0006],[525,0.0005],[530,0.0007],[535,0.0006],[540,0.0008],[545,0.0005],[550,0.0006],[555,0.0007],[560,0.0005],[565,0.0006],[570,0.0007],[575,0.0005],[580,0.0006],[585,0.0007],[590,0.0005],[595,0.0006],[600,0.0005]];
var g24_p16 = [[200,-0.0001],[205,-0.0002],[210,-0.00015],[215,-0.0002],[220,-0.0002],[225,-0.00025],[230,-0.0002],[235,-0.00015],[240,-0.0001],[245,0],[250,0.0002],[254,0.0003],[258,0.0002],[262,0],[266,-0.0002],[270,-0.0003],[274,-0.0004],[278,-0.0004],[282,-0.0003],[287,-0.0001],[292,0],[297,0.0001],[302,0.0002],[306,0.0003],[310,0.0005],[313,0.0005],[316,0.0002],[320,0],[325,-0.0001],[330,-0.0001],[335,0],[340,0.0001],[345,0.0001],[350,0],[355,0.0001],[360,0.0002],[364,0.0005],[368,0.0008],[372,0.0009],[375,0.0008],[378,0.0004],[381,-0.0002],[384,-0.001],[387,-0.0022],[390,-0.0033],[392,-0.0038],[394,-0.0036],[397,-0.0027],[400,-0.0015],[403,-0.0006],[406,0],[410,0.0004],[414,0.0006],[418,0.0004],[422,0.0007],[426,0.0005],[430,0.0009],[434,0.0006],[438,0.0008],[442,0.0005],[446,0.0009],[450,0.0006],[454,0.0008],[458,0.0005],[462,0.0007],[466,0.0006],[470,0.0009],[474,0.0005],[478,0.0007],[482,0.0006],[486,0.0008],[490,0.0004],[494,0.0007],[498,0.0005],[502,0.0006],[506,0.0004],[510,0.0007],[514,0.0005],[518,0.0006],[522,0.0003],[526,0.0006],[530,0.0004],[534,0.0005],[538,0.0003],[542,0.0006],[546,0.0004],[550,0.0005],[554,0.0003],[558,0.0005],[562,0.0002],[566,0.0005],[570,0.0003],[574,0.0005],[578,0.0002],[582,0.0004],[586,0.0001],[590,0.0004],[594,0.0002],[597,0.0004],[600,0.0003]];
var g24_m16 = [[200,0.0001],[205,0],[210,-0.0001],[215,-0.0002],[220,-0.0002],[225,-0.0001],[230,-0.0001],[235,-0.0002],[240,0],[245,0],[250,-0.0001],[255,0],[260,0.0002],[265,0.0003],[270,0.0004],[275,0.0005],[280,0.0004],[285,0.0003],[290,0.0001],[295,0],[300,-0.0002],[305,-0.0004],[310,-0.0006],[313,-0.0006],[317,-0.0004],[321,-0.0001],[325,0.0001],[330,0.0002],[335,0.0003],[340,0.0002],[345,0.0001],[350,0],[355,-0.0002],[360,-0.0004],[364,-0.0006],[368,-0.0008],[372,-0.0009],[376,-0.0009],[379,-0.0006],[382,-0.0002],[385,0.0006],[387,0.0018],[389,0.003],[391,0.0037],[393,0.0039],[395,0.0036],[397,0.003],[399,0.0022],[401,0.0016],[404,0.0013],[407,0.0012],[410,0.0013],[414,0.0011],[418,0.0015],[422,0.0012],[426,0.0014],[430,0.0011],[434,0.0016],[438,0.0012],[442,0.0015],[446,0.0013],[450,0.0018],[454,0.0012],[458,0.0015],[462,0.0011],[466,0.0014],[470,0.0012],[474,0.0015],[478,0.0011],[482,0.0013],[486,0.0012],[490,0.0014],[494,0.001],[498,0.0013],[502,0.0011],[506,0.0014],[510,0.001],[514,0.0012],[518,0.0011],[522,0.0014],[526,0.001],[530,0.0012],[534,0.0011],[538,0.0013],[542,0.0009],[546,0.0012],[550,0.001],[554,0.0013],[558,0.0009],[562,0.0011],[566,0.001],[570,0.0014],[574,0.0009],[578,0.0011],[582,0.0008],[586,0.0012],[590,0.0009],[594,0.0012],[597,0.001],[600,0.0011]];

// ---- drawing ----
var colors = {"0T": "#000000", "+0.8T": "#ff2626", "-0.8T": "#1c1cff", "+1.6T": "#ff1aff", "-1.6T": "#238c23"};
var fontFam = "'Liberation Sans', Arial, Helvetica, sans-serif";
var svg = d3.select("#fig");

function fmt(spec) {
    var f = d3.format(spec);
    return function (d) { return f(d).replace("\u2212", "-"); };
}

// film: [x, centre y, width], wt: [text, x, centre y, width]
var panels = [
    // 80 wt %
    {box: [75, 15, 402, 258], yDom: [-150, 177], yTicks: cdTicks80, yFmt: "d",
     series: [["0T", cd80_0T], ["+1.6T", cd80_p16], ["-1.6T", cd80_m16]], lw: 2, marker: true,
     yTitle: {text: "CD (mdeg)", cx: 33.5, size: 20}, xTitle: {cx: 239, y: 301, size: 18.5}, fs: 13.5,
     film: [94, 27, 149], wt: ["80 wt %", 312, 33, 65], legend: {x0: 306, x1: 337, tx: 341, ys: [183, 202, 220], size: 13.5}},
    {box: [455, 16, 762, 258], yDom: [-0.24, 5.24], yTicks: absTicks80, yFmt: ".1f",
     series: [["0T", abs80_0T], ["+1.6T", abs80_p16], ["-1.6T", abs80_m16]], lw: 2.3, marker: true,
     yTitle: {text: "Absorbance", cx: 416, size: 18.5}, xTitle: {cx: 606, y: 297, size: 18}, fs: 13.5,
     film: [522, 25, 144], wt: ["80 wt %", 685, 30, 61], legend: {x0: 668, x1: 697, tx: 701, ys: [153, 172, 189], size: 13.5}},
    {box: [847, 16, 1171, 258], yDom: [-0.0038, 0.00373], yTicks: gTicks80, yFmt: ".3f",
     series: [["0T", g80_0T], ["+1.6T", g80_p16], ["-1.6T", g80_m16]], lw: 2, marker: true,
     yTitle: {g: true, cx: 791, size: 21, sub: 11}, xTitle: {cx: 1009, y: 298, size: 18.5}, fs: 13.5,
     film: [854, 25, 147], wt: ["80 wt %", 1085, 30, 64], legend: {x0: 1074, x1: 1105, tx: 1113, ys: [176, 194, 212], size: 13.5}},
    // 64 wt %
    {box: [74, 315, 400, 557], yDom: [-125, 176], yTicks: cdTicks64, yFmt: "d",
     series: [["0T", cd64_0T], ["+1.6T", cd64_p16], ["-1.6T", cd64_m16]], lw: 1.5, marker: false,
     yTitle: {text: "CD (mdeg)", cx: 29.6, size: 19.5}, xTitle: {cx: 230, y: 597, size: 19}, fs: 14,
     film: [91, 327, 148], wt: ["64 wt %", 324.5, 332, 66], legend: {x0: 298, x1: 329, tx: 332, ys: [482, 499, 517], size: 13}},
    {box: [455, 315, 764.5, 552], yDom: [-0.25, 4.0], yTicks: absTicks64, yFmt: ".1f",
     series: [["0T", abs64_0T], ["+1.6T", abs64_p16], ["-1.6T", abs64_m16]], lw: 1.5, marker: false,
     yTitle: {text: "Absorbance", cx: 416, size: 18}, xTitle: {cx: 597, y: 588, size: 18}, fs: 13.5,
     film: [513, 327, 140], wt: ["64 wt %", 684, 331, 62], legend: {x0: 655, x1: 686, tx: 689, ys: [452, 469, 487], size: 12}},
    {box: [839, 315, 1170, 555], yDom: [-0.0025, 0.003], yTicks: gTicks64, yFmt: ".3f",
     series: [["0T", g64_0T], ["+1.6T", g64_p16], ["-1.6T", g64_m16]], lw: 1.5, marker: false,
     yTitle: {g: true, cx: 782, size: 21, sub: 16}, xTitle: {cx: 997, y: 591, size: 19}, fs: 14,
     film: [849.5, 326, 149], wt: ["64 wt %", 1073, 332, 66], legend: {x0: 1061, x1: 1095, tx: 1097, ys: [474, 492, 510], size: 13.5}},
    // 48 wt %
    {box: [60, 622, 393, 865], yDom: [-75.6, 95], yTicks: cdTicks48, yFmt: "d",
     series: [["0T", cd48_0T], ["+1.6T", cd48_p16], ["-1.6T", cd48_m16]], lw: 2, marker: true,
     yTitle: {text: "CD (mdeg)", cx: 19, size: 17}, xTitle: {cx: 226, y: 902, size: 17.5}, fs: 13,
     film: [74, 631, 151], wt: ["48 wt %", 308, 637, 66], legend: {x0: 269, x1: 302, tx: 306, ys: [788, 806, 823], size: 13.5}},
    {box: [456.6, 623, 779.4, 866], yDom: [-0.25, 3.74], yTicks: absTicks48, yFmt: ".1f",
     series: [["0T", abs48_0T], ["+1.6T", abs48_p16], ["-1.6T", abs48_m16]], lw: 2.3, marker: true,
     yTitle: {text: "Absorbance", cx: 416, size: 18.5}, xTitle: {cx: 612.6, y: 901, size: 18.5}, fs: 14,
     film: [494, 634, 146], wt: ["48 wt %", 702, 636, 66], legend: {x0: 666.5, x1: 699, tx: 702, ys: [767, 784, 803], size: 13.5}},
    {box: [860.6, 623, 1193.5, 865], yDom: [-0.003, 0.004], yTicks: gTicks48, yFmt: ".3f",
     series: [["0T", g48_0T], ["+1.6T", g48_p16], ["-1.6T", g48_m16]], lw: 2, marker: true,
     yTitle: {g: true, cx: 803, size: 21, sub: 11}, xTitle: {cx: 1019.6, y: 901, size: 18.5}, fs: 14,
     film: [868, 633, 150], wt: ["48 wt %", 1094, 637, 66], legend: {x0: 1073, x1: 1105, tx: 1110, ys: [789, 807, 826], size: 13.5}},
    // 32 wt%
    {box: [61, 916, 397, 1186], yDom: [-60, 80], yTicks: cdTicks32, yFmt: "d",
     series: [["0T", cd32_0T], ["+0.8T", cd32_p08], ["-0.8T", cd32_m08], ["+1.6T", cd32_p16], ["-1.6T", cd32_m16]], lw: 2, marker: true,
     yTitle: {text: "CD (mdeg)", cx: 19, size: 21.5}, xTitle: {cx: 229, y: 1226, size: 19.5}, fs: 15,
     film: [73, 928, 153], wt: ["32 wt%", 314, 933, 61], legend: {x0: 306, x1: 339, tx: 343, ys: [1092, 1112, 1132, 1152, 1172], size: 14}},
    {box: [456.6, 916, 779.4, 1186], yDom: [-0.3, 2.2], yTicks: absTicks32, yFmt: ".1f",
     series: [["0T", abs32_0T], ["+0.8T", abs32_p08], ["-0.8T", abs32_m08], ["+1.6T", abs32_p16], ["-1.6T", abs32_m16]], lw: 2, marker: true,
     yTitle: {text: "Absorbance", cx: 409.5, size: 20.5}, xTitle: {cx: 618, y: 1228, size: 18.5}, fs: 14.5,
     film: [501, 933, 146], wt: ["32 wt%", 697, 933, 60], legend: {x0: 661, x1: 693, tx: 699, ys: [1043, 1063, 1083, 1102, 1122], size: 14}},
    {box: [859, 916, 1196.7, 1186], yDom: [-0.002, 0.002], yTicks: gTicks32, yFmt: ".4f",
     series: [["0T", g32_0T], ["+0.8T", g32_p08], ["-0.8T", g32_m08], ["+1.6T", g32_p16], ["-1.6T", g32_m16]], lw: 2, marker: true,
     yTitle: {g: true, cx: 792, size: 22, sub: 12}, xTitle: {cx: 1021.5, y: 1228, size: 19.5}, fs: 15,
     film: [864, 927, 154], wt: ["32 wt%", 1118, 932, 63], legend: {x0: 894, x1: 927, tx: 931, ys: [1084, 1104, 1124, 1144, 1164], size: 14}},
    // 24 wt%
    {box: [62, 1253, 395, 1533], yDom: [-60, 70], yTicks: cdTicks24, yFmt: "d",
     series: [["0T", cd24_0T], ["+0.8T", cd24_p08], ["-0.8T", cd24_m08], ["+1.6T", cd24_p16], ["-1.6T", cd24_m16]], lw: 2, marker: true,
     yTitle: {text: "CD (mdeg)", cx: 22, size: 21}, xTitle: {cx: 229.5, y: 1575, size: 19.5}, fs: 14.5,
     film: [80, 1269, 151], wt: ["24 wt%", 311, 1278, 60], legend: {x0: 315, x1: 346, tx: 350, ys: [1434, 1455, 1476, 1497, 1517], size: 14}},
    {box: [458, 1253, 781.4, 1533], yDom: [-0.105, 1.6], yTicks: absTicks24, yFmt: ".1f",
     series: [["0T", abs24_0T], ["+0.8T", abs24_p08], ["-0.8T", abs24_m08], ["+1.6T", abs24_p16], ["-1.6T", abs24_m16]], lw: 2, marker: true,
     yTitle: {text: "Absorbance", cx: 416, size: 21}, xTitle: {cx: 614, y: 1575, size: 18.5}, fs: 14,
     film: [514, 1270, 147], wt: ["24 wt %", 709, 1271, 64], legend: null},
    {box: [860, 1253, 1199, 1533], yDom: [-0.00426, 0.00452], yTicks: gTicks24, yFmt: ".3f",
     series: [["0T", g24_0T], ["+0.8T", g24_p08], ["-0.8T", g24_m08], ["+1.6T", g24_p16], ["-1.6T", g24_m16]], lw: 2, marker: true,
     yTitle: {g: true, cx: 802, size: 22, sub: 12}, xTitle: {cx: 1029, y: 1575, size: 19.5}, fs: 15,
     film: [869, 1267, 155], wt: ["24 wt%", 1123, 1265, 62], legend: {x0: 882, x1: 915, tx: 921, ys: [1431, 1451, 1471, 1492, 1514], size: 14}}
];

function minorTicks(ticks, dom) {
    var step = ticks[1] - ticks[0];
    var out = d3.pairs(ticks).map(function (p) { return (p[0] + p[1]) / 2; });
    var lo = ticks[0] - step / 2, hi = ticks[ticks.length - 1] + step / 2;
    if (lo > dom[0]) out.push(lo);
    if (hi < dom[1]) out.push(hi);
    return out;
}

function styleAxis(sel, fs) {
    sel.select(".domain").remove();
    sel.selectAll("line").attr("stroke", "#555").attr("stroke-width", 1);
    sel.selectAll("text").attr("font-family", fontFam).attr("font-size", fs).attr("fill", "#1a1a1a");
}

function drawPanel(p, i) {
    var x0 = p.box[0], y0 = p.box[1], x1 = p.box[2], y1 = p.box[3];
    var x = d3.scaleLinear().domain([150, 650]).range([x0, x1]);
    var y = d3.scaleLinear().domain(p.yDom).range([y1, y0]);
    var g = svg.append("g");

    g.append("clipPath").attr("id", "clip" + i)
        .append("rect").attr("x", x0).attr("y", y0).attr("width", x1 - x0).attr("height", y1 - y0);

    var line = d3.line()
        .x(function (d) { return x(d[0]); })
        .y(function (d) { return y(d[1]); })
        .curve(d3.curveMonotoneX);

    var plot = g.append("g").attr("clip-path", "url(#clip" + i + ")");
    p.series.forEach(function (s) {
        plot.append("path")
            .datum(s[1])
            .attr("d", line)
            .attr("fill", "none")
            .attr("stroke", colors[s[0]])
            .attr("stroke-width", p.lw)
            .attr("stroke-linejoin", "round");
    });

    // frame
    g.append("rect")
        .attr("x", x0).attr("y", y0).attr("width", x1 - x0).attr("height", y1 - y0)
        .attr("fill", "none").attr("stroke", "#555").attr("stroke-width", 1.3);

    // axes
    var xa = g.append("g").attr("transform", "translate(0," + y1 + ")")
        .call(d3.axisBottom(x).tickValues(xTicks).tickSize(3).tickPadding(4).tickFormat(fmt("d")));
    styleAxis(xa, p.fs);
    var xm = g.append("g").attr("transform", "translate(0," + y1 + ")")
        .call(d3.axisBottom(x).tickValues([250, 350, 450, 550]).tickSize(2).tickFormat(""));
    styleAxis(xm, p.fs);

    var ya = g.append("g").attr("transform", "translate(" + x0 + ",0)")
        .call(d3.axisLeft(y).tickValues(p.yTicks).tickSize(3).tickPadding(2).tickFormat(fmt(p.yFmt)));
    styleAxis(ya, p.fs);
    var ym = g.append("g").attr("transform", "translate(" + x0 + ",0)")
        .call(d3.axisLeft(y).tickValues(minorTicks(p.yTicks, p.yDom)).tickSize(2).tickFormat(""));
    styleAxis(ym, p.fs);

    // axis titles
    g.append("text")
        .attr("x", p.xTitle.cx).attr("y", p.xTitle.y)
        .attr("text-anchor", "middle")
        .attr("font-family", fontFam).attr("font-size", p.xTitle.size).attr("fill", "#1a1a1a")
        .text("Wavelength (nm)");

    var cy = (y0 + y1) / 2;
    var yt = g.append("text")
        .attr("transform", "translate(" + p.yTitle.cx + "," + cy + ") rotate(-90)")
        .attr("text-anchor", "middle")
        .attr("dy", "0.35em")
        .attr("font-family", fontFam).attr("font-size", p.yTitle.size).attr("fill", "#1a1a1a");
    if (p.yTitle.g) {
        yt.append("tspan").text("g");
        yt.append("tspan").attr("font-size", p.yTitle.sub).attr("dy", p.yTitle.sub * 0.45).text("abs");
    } else {
        yt.text(p.yTitle.text);
    }

    // labels inside (the source panels are stretched sideways, so fit the measured width)
    g.append("text")
        .attr("x", p.film[0]).attr("y", p.film[1] + 4.5)
        .attr("font-family", fontFam).attr("font-size", 13).attr("fill", "#1a1a1a")
        .attr("textLength", p.film[2]).attr("lengthAdjust", "spacingAndGlyphs")
        .text("Film with CB treatment");
    g.append("text")
        .attr("x", p.wt[1]).attr("y", p.wt[2] + 5.8)
        .attr("font-family", fontFam).attr("font-size", 16).attr("fill", "#1a1a1a")
        .attr("textLength", p.wt[3]).attr("lengthAdjust", "spacingAndGlyphs")
        .text(p.wt[0]);

    // legend
    if (p.legend) {
        var L = p.legend;
        p.series.forEach(function (s, k) {
            var ly = L.ys[k];
            g.append("line")
                .attr("x1", L.x0).attr("x2", L.x1).attr("y1", ly).attr("y2", ly)
                .attr("stroke", colors[s[0]]).attr("stroke-width", Math.min(p.lw, 1.6));
            if (p.marker) {
                g.append("circle")
                    .attr("cx", (L.x0 + L.x1) / 2).attr("cy", ly).attr("r", 1.8)
                    .attr("fill", colors[s[0]]);
            }
            g.append("text")
                .attr("x", L.tx).attr("y", ly + L.size * 0.36)
                .attr("font-family", fontFam).attr("font-size", L.size).attr("fill", "#1a1a1a")
                .text(s[0]);
        });
    }
}

panels.forEach(drawPanel);
</script>
</body>
</html>
